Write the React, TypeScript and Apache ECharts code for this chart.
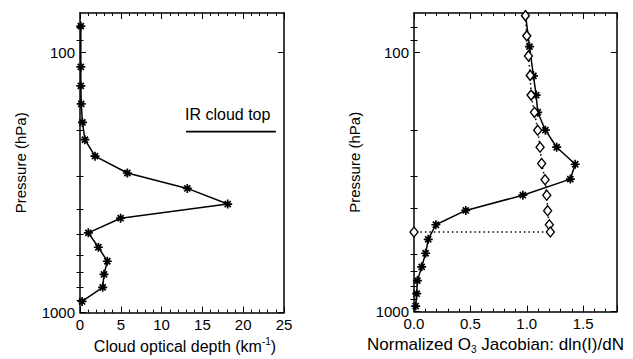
import React, { useEffect, useRef } from "react";
import * as echarts from "echarts";

// ---- axes ----
const pressureTop = 70.7;
const pressureBottom = 1000;
const pressureMajorTicks = [100, 1000];
const pressureMinorTicks = [80, 90, 200, 300, 400, 500, 600, 700, 800, 900];
const depthRange = [0, 25];
const depthStep = 5;
const jacobianRange = [0, 1.8];
const jacobianStep = 0.5;

// ---- left panel: cloud optical depth profile ----
const cloudPressure = [79.4, 113.9, 134.6, 157.9, 186, 216.8, 250.7, 291, 333.5, 383, 434, 494, 561, 635, 713, 800, 906];
const cloudOpticalDepth = [0.1, 0.1, 0.1, 0.15, 0.3, 0.6, 1.84, 5.8, 13.15, 18.1, 4.98, 1.02, 2.25, 3.35, 2.94, 2.78, 0.25];
const irCloudTopLabel = "IR cloud top";
const irCloudTopPressure = 202;
const irCloudTopSpan = [13, 24];

// ---- right panel: normalized O3 Jacobians ----
const cloudyPressure = [72.4, 95.3, 123.5, 146.5, 170.6, 200, 232.6, 270.5, 308.6, 356, 407.6, 462.7, 526.6, 596, 672.4, 759.7, 853, 952];
const cloudyJacobian = [0.99, 1.024, 1.059, 1.083, 1.097, 1.165, 1.265, 1.43, 1.386, 0.965, 0.459, 0.194, 0.126, 0.103, 0.068, 0.03, 0.024, 0.015];
const clearPressure = [72.4, 86.6, 103.5, 123, 146.5, 170.6, 200, 232.6, 268.7, 310.3, 356, 408.5, 462.7, 493.5, 493.5];
const clearJacobian = [0.988, 1.0, 1.015, 1.03, 1.038, 1.068, 1.097, 1.118, 1.132, 1.162, 1.177, 1.185, 1.2, 1.209, 0];

const FONT = "Liberation Sans, Arial, Helvetica, sans-serif";
const BLACK = "#000";
const ASTERISK = "path://M5 0L5 10M0 5L10 5M1.6 1.6L8.4 8.4M1.6 8.4L8.4 1.6";

const lg = (p: number) => Math.log10(p);

function makeRich(size: number) {
  return {
    a: { fontFamily: FONT, fontSize: size, color: BLACK, lineHeight: size + 3 },
    sup: { fontFamily: FONT, fontSize: 10, color: BLACK, lineHeight: 11, verticalAlign: "top" },
    sub: { fontFamily: FONT, fontSize: 10, color: BLACK, lineHeight: 11, verticalAlign: "bottom" },
  };
}

function xAxes(gridIndex: number, range: number[], step: number, name: string, titleSize: number, namePadding: number[]) {
  const common = {
    gridIndex,
    type: "value",
    min: range[0],
    max: range[1],
    interval: step,
    splitLine: { show: false },
    axisLine: { show: true, onZero: false, lineStyle: { color: BLACK, width: 1.5 } },
    axisTick: { show: true, inside: true, length: 6, lineStyle: { color: BLACK, width: 1 } },
    minorTick: { show: true, splitNumber: 5, length: 3, lineStyle: { color: BLACK, width: 1 } },
  };
  return [
    {
      ...common,
      position: "bottom",
      axisLabel: {
        color: BLACK,
        fontFamily: FONT,
        fontSize: 15,
        margin: 4,
        showMaxLabel: range[1] % step === 0,
        formatter: (v: number) => (step < 1 ? v.toFixed(1) : String(v)),
      },
      name,
      nameLocation: "middle",
      nameGap: 16,
      nameTextStyle: {
        color: BLACK,
        fontFamily: FONT,
        fontSize: titleSize,
        rich: makeRich(titleSize),
        padding: namePadding,
      },
    },
    { ...common, position: "top", axisLabel: { show: false } },
  ];
}

function yAxes(gridIndex: number, name: string) {
  const common = {
    gridIndex,
    type: "value",
    min: lg(pressureTop),
    max: lg(pressureBottom),
    inverse: true,
    splitLine: { show: false },
  };
  const major = (position: string, withLabels: boolean) => ({
    ...common,
    position,
    axisLine: { show: true, onZero: false, lineStyle: { color: BLACK, width: 1.5 } },
    axisTick: {
      show: true,
      inside: true,
      length: 6,
      customValues: pressureMajorTicks.map(lg),
      lineStyle: { color: BLACK, width: 1 },
    },
    axisLabel: withLabels
      ? {
          color: BLACK,
          fontFamily: FONT,
          fontSize: 15,
          margin: 5,
          customValues: pressureMajorTicks.map(lg),
          formatter: (v: number) => String(Math.round(Math.pow(10, v))),
        }
      : { show: false },
    ...(withLabels
      ? {
          name,
          nameLocation: "middle",
          nameGap: 52,
          nameTextStyle: { color: BLACK, fontFamily: FONT, fontSize: 15 },
        }
      : {}),
  });
  const minor = (position: string) => ({
    ...common,
    position,
    axisLine: { show: false },
    axisTick: {
      show: true,
      inside: true,
      length: 3.5,
      customValues: pressureMinorTicks.map(lg),
      lineStyle: { color: BLACK, width: 1 },
    },
    axisLabel: { show: false },
  });
  return [major("left", true), minor("left"), major("right", false), minor("right")];
}

const zip = (xs: number[], ps: number[]) => xs.map((x, i) => [x, lg(ps[i])]);

export default function App() {
  const ref = useRef<HTMLDivElement>(null);
  useEffect(() => {
    if (!ref.current) return;
    const chart = echarts.init(ref.current, null, { renderer: "svg" });
    chart.setOption({
      animation: false,
      backgroundColor: "#fff",
      grid: [
        { left: 80, top: 13, right: 349, bottom: 40, containLabel: false },
        { left: 414, top: 13, right: 16, bottom: 40, containLabel: false },
      ],
      xAxis: [
        ...xAxes(0, depthRange, depthStep, "{a|Cloud optical depth (km}{sup|-1}{a|)}", 16, [0, 0, 0, 6]),
        ...xAxes(1, jacobianRange, jacobianStep, "{a|Normalized O}{sub|3}{a| Jacobian: dln(I)/dN}", 17, [0, 40, 0, 0]),
      ],
      yAxis: [...yAxes(0, "Pressure (hPa)"), ...yAxes(1, "Pressure (hPa)")],
      graphic: [
        {
          type: "text",
          left: 185,
          top: 106,
          style: { text: irCloudTopLabel, fontFamily: FONT, fontSize: 16, fill: BLACK },
        },
      ],
      series: [
        {
          type: "line",
          xAxisIndex: 0,
          yAxisIndex: 0,
          data: zip(cloudOpticalDepth, cloudPressure),
          symbol: ASTERISK,
          symbolSize: 9,
          showAllSymbol: true,
          lineStyle: { color: BLACK, width: 1.5 },
          itemStyle: { color: "none", borderColor: BLACK, borderWidth: 1.7 },
          z: 3,
        },
        {
          type: "line",
          xAxisIndex: 0,
          yAxisIndex: 0,
          data: irCloudTopSpan.map((x) => [x, lg(irCloudTopPressure)]),
          symbol: "none",
          lineStyle: { color: BLACK, width: 1.8 },
        },
        {
          type: "line",
          xAxisIndex: 2,
          yAxisIndex: 4,
          data: zip(clearJacobian, clearPressure),
          symbol: "diamond",
          symbolSize: [8, 10],
          showAllSymbol: true,
          lineStyle: { color: BLACK, width: 1.5, type: [1.5, 3] },
          itemStyle: { color: "#fff", borderColor: BLACK, borderWidth: 1.4 },
          z: 4,
        },
        {
          type: "line",
          xAxisIndex: 2,
          yAxisIndex: 4,
          data: zip(cloudyJacobian, cloudyPressure).map((v, i) =>
            i === 0 ? { value: v, symbol: "none" } : v
          ),
          symbol: ASTERISK,
          symbolSize: 9,
          showAllSymbol: true,
          lineStyle: { color: BLACK, width: 1.5 },
          itemStyle: { color: "none", borderColor: BLACK, borderWidth: 1.7 },
          z: 3,
        },
      ],
    });
    return () => chart.dispose();
  }, []);
  return <div ref={ref} style={{ width: 633, height: 359, position: "absolute", left: 0, top: 0 }} />;
}
